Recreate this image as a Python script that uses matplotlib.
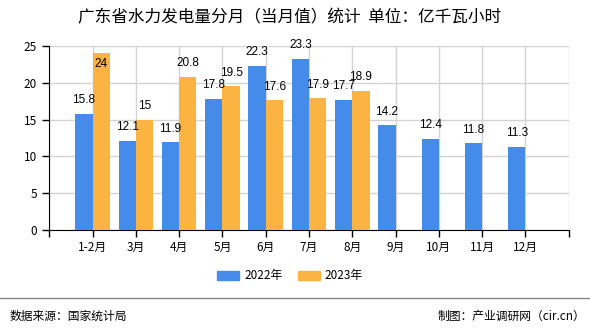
import numpy as np
import matplotlib
matplotlib.use('Agg')
import matplotlib.pyplot as plt
from matplotlib.lines import Line2D
from matplotlib.patches import Patch

plt.rcParams['font.family'] = ['Noto Sans CJK SC', 'DejaVu Sans']

# data
months = ['1-2月', '3月', '4月', '5月', '6月', '7月', '8月', '9月', '10月', '11月', '12月']
values_2022 = [15.8, 12.1, 11.9, 17.8, 22.3, 23.3, 17.7, 14.2, 12.4, 11.8, 11.3]
values_2023 = [24, 15, 20.8, 19.5, 17.6, 17.9, 18.9]
series_names = ['2022年', '2023年']
title = '广东省水力发电量分月（当月值）统计  单位：亿千瓦小时'
source_text = '数据来源：国家统计局'
credit_text = '制图：产业调研网（cir.cn）'

blue = '#448bea'
orange = '#fbb342'
width = 0.4
y_max = 25

fig = plt.figure(figsize=(5.9, 3.3), dpi=100)
ax = fig.add_axes([49.3 / 590, 1 - 230 / 330, 519.4 / 590, 184 / 330])

x1 = np.arange(1, len(values_2022) + 1)
x2 = np.arange(1, len(values_2023) + 1)
ax.bar(x1 - width / 2, values_2022, width, color=blue, zorder=3)
ax.bar(x2 + width / 2, values_2023, width, color=orange, zorder=3)


# value labels above the bars, pushed inside when they would leave the axes
def label_bars(xs, vals):
    for x, v in zip(xs, vals):
        txt = ('%g' % v)
        if v > 23.5:
            ax.annotate(txt, (x, v), xytext=(0, -3), textcoords='offset points',
                        ha='center', va='top', fontsize=8.5, family='Liberation Sans', zorder=4)
        else:
            ax.annotate(txt, (x, v), xytext=(0, 5.5), textcoords='offset points',
                        ha='center', va='bottom', fontsize=8.5, family='Liberation Sans', zorder=4)


label_bars(x1 - width / 2, values_2022)
label_bars(x2 + width / 2, values_2023)

ax.set_xlim(0, len(months) + 1)
ax.set_ylim(0, y_max)
ax.set_xticks(np.arange(0, len(months) + 2))
ax.set_xticklabels([''] + months + [''])
ax.set_yticks(np.arange(0, y_max + 1, 5))
ax.tick_params(axis='both', direction='out', length=5, width=1, colors='black', labelsize=8.5, pad=3)
ax.tick_params(axis='y', pad=4)
ax.grid(True, color='#d3d3d3', linewidth=1, zorder=0)

for side in ['top', 'right']:
    ax.spines[side].set_visible(False)
ax.spines['left'].set_color('black')
ax.spines['bottom'].set_color('black')

fig.text(290 / 590, 1 - 18 / 330, title, ha='center', va='center', fontsize=12)

handles = [Patch(color=blue), Patch(color=orange)]
fig.legend(handles, series_names, loc='center', bbox_to_anchor=(290 / 590, 1 - 276 / 330),
           ncol=2, frameon=False, fontsize=8.5, handlelength=1.85, handleheight=0.9,
           columnspacing=1.3, handletextpad=0.45)

fig.add_artist(Line2D([0, 1], [1 - 298 / 330] * 2, color='#888888', linewidth=1))
fig.text(10 / 590, 1 - 316 / 330, source_text, ha='left', va='center', fontsize=8.5)
fig.text(585 / 590, 1 - 316 / 330, credit_text, ha='right', va='center', fontsize=8.5)

plt.savefig('out.png', dpi=100)
plt.close()
